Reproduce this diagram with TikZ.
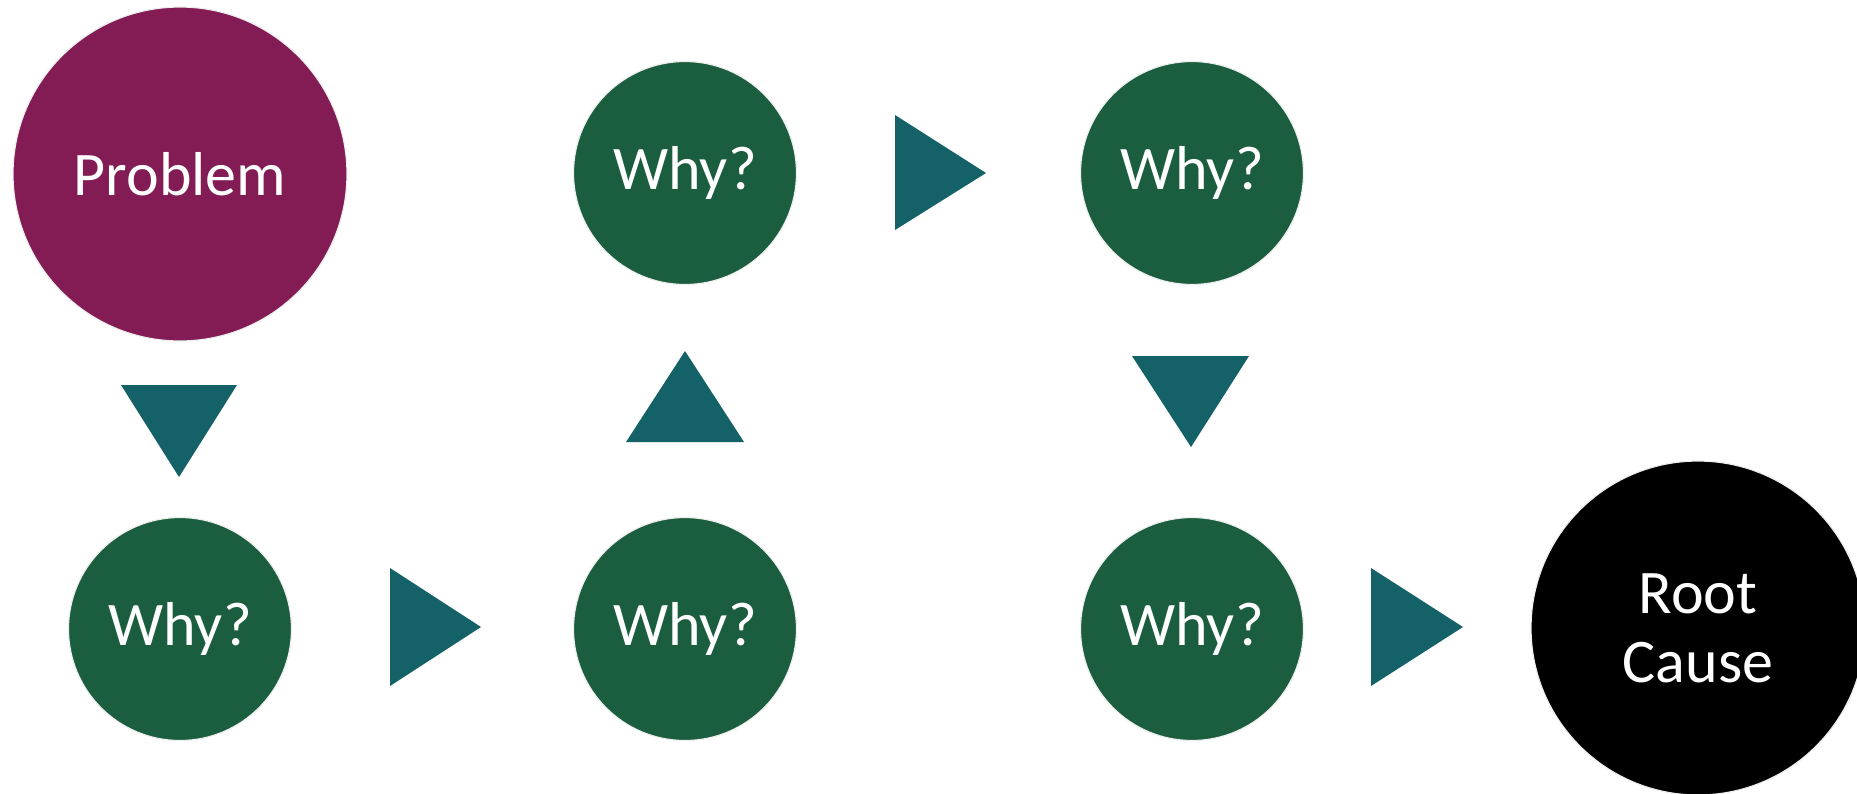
\documentclass[tikz,border=0pt]{standalone}
\usepackage{fontspec}
\setmainfont{Carlito}
\definecolor{probcol}{HTML}{831C54}
\definecolor{whycol}{HTML}{1B5E3F}
\definecolor{arrcol}{HTML}{146268}
\definecolor{rimcol}{HTML}{EEEEEE}
\begin{document}
\begin{tikzpicture}[x=1pt,y=-1pt,
  bubble/.style={circle,inner sep=0pt,draw=rimcol,line width=1.2pt,text=white,
    font=\fontsize{62}{69}\selectfont,align=center},
  bigbubble/.style={bubble,minimum size=334pt},
  whybubble/.style={bubble,fill=whycol,minimum size=223pt},
  pointer/.style={fill=arrcol}]
\useasboundingbox (0,0) rectangle (1857,793);
\clip (0,0) rectangle (1857,793);
\fill[white] (0,0) rectangle (1857,793);
\node[bigbubble,fill=probcol] (prob) at (180,174) {Problem};
\node[whybubble] (w1) at (180,629) {Why?};
\node[whybubble] (w2) at (685,629) {Why?};
\node[whybubble] (w3) at (685,173) {Why?};
\node[whybubble] (w4) at (1192,173) {Why?};
\node[whybubble] (w5) at (1192,629) {Why?};
\node[bigbubble,fill=black] (root) at (1698,628) {Root\\Cause};
% pointers
\fill[pointer] (121,385) -- (237,385) -- (179,477) -- cycle;
\fill[pointer] (390,568) -- (390,686) -- (481,627) -- cycle;
\fill[pointer] (626,442) -- (744,442) -- (685,351) -- cycle;
\fill[pointer] (895,115) -- (895,230) -- (986,173) -- cycle;
\fill[pointer] (1132,356) -- (1249,356) -- (1191,447) -- cycle;
\fill[pointer] (1371,568) -- (1371,686) -- (1463,627) -- cycle;
\end{tikzpicture}
\end{document}
